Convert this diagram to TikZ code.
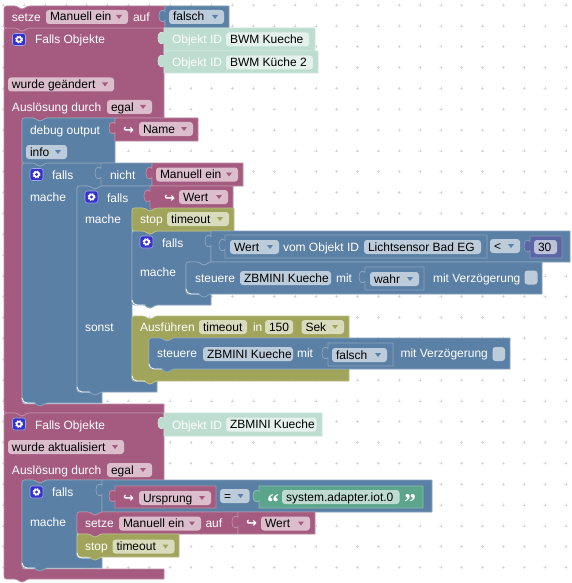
\documentclass[tikz,border=0pt]{standalone}
\usepackage{fontspec}
\setmainfont{Liberation Sans}
\newfontfamily\symfont{DejaVu Sans}
\newfontfamily\quotefont{Liberation Serif}
\definecolor{cmag}{HTML}{A55B80}
\definecolor{cblu}{HTML}{5B80A5}
\definecolor{coli}{HTML}{A0A55B}
\definecolor{cmin}{HTML}{BDDDD1}
\definecolor{cgrn}{HTML}{5BA58C}
\definecolor{cpur}{HTML}{5B67A5}
\definecolor{cgear}{HTML}{3333CC}
\begin{document}
\begin{tikzpicture}[x=1pt,y=-1pt,line cap=round,line join=round,
    every node/.style={inner sep=0pt,outer sep=0pt,font=\fontsize{12}{14}\selectfont},
    magblk/.style={fill=cmag,draw=cmag!72!white,line width=0.7pt},
    blublk/.style={fill=cblu,draw=cblu!72!white,line width=0.7pt},
    oliblk/.style={fill=coli,draw=coli!72!white,line width=0.7pt},
    minblk/.style={fill=cmin,draw=cmin!80!white,line width=0.7pt},
    grnblk/.style={fill=cgrn,draw=cgrn!72!white,line width=0.7pt},
    purblk/.style={fill=cpur,draw=cpur!72!white,line width=0.7pt},
    lab/.style={anchor=base west,text=white},
    fldtxt/.style={anchor=base west,text=black},
    fldbg/.style={fill=white,fill opacity=0.6,rounded corners=3pt},
    hilite/.style={draw=white!92!cblu,line width=0.9pt}]
  \def\stmt#1#2#3#4#5{\draw[#1,rounded corners=2.5pt] (#2,#5) -- (#2,#3) -- ({#2+13},#3) -- ({#2+16},{#3+3}) -- ({#2+20},{#3+3}) -- ({#2+23},#3) [sharp corners] -- (#4,#3) -- (#4,#5) [rounded corners=2.5pt] -- ({#2+23},#5) -- ({#2+20},{#5+3}) -- ({#2+16},{#5+3}) -- ({#2+13},#5) -- cycle;}
  \def\cblk#1#2#3#4#5#6#7#8#9{\draw[#1,rounded corners=2.5pt] (#2,#9) -- (#2,#3) -- ({#2+13},#3) -- ({#2+16},{#3+3}) -- ({#2+20},{#3+3}) -- ({#2+23},#3) [sharp corners] -- (#4,#3) -- (#4,#5) [rounded corners=2.5pt] -- ({#6+23},#5) -- ({#6+20},{#5+3}) -- ({#6+16},{#5+3}) -- ({#6+13},#5) -- (#6,#5) -- (#6,#7) [sharp corners] -- (#8,#7) -- (#8,#9) [rounded corners=2.5pt] -- ({#2+23},#9) -- ({#2+20},{#9+3}) -- ({#2+16},{#9+3}) -- ({#2+13},#9) -- cycle;}
  \def\val#1#2#3#4#5{\draw[#1] (#2,#3) -- (#4,#3) -- (#4,#5) -- (#2,#5) -- (#2,{#3+16}) -- (#2,{#3+14.5}) .. controls ({#2-2},{#3+16.5}) and ({#2-6},{#3+16.5}) .. ({#2-6},{#3+10}) .. controls ({#2-6},{#3+3.5}) and ({#2-2},{#3+3.5}) .. (#2,{#3+5.5}) -- cycle;}
  \def\lab#1#2#3#4{\node[lab] (#1) at (#2,#3) {#4};}
  \def\fld#1#2#3#4#5{\fill[fldbg] (#2,#4) rectangle (#3,{#4+14}); \node[fldtxt] (#1) at ({#2+4},{#4+11}) {#5};}
  \def\ddm#1#2#3#4#5#6{\fld{#2}{#3}{#4}{#5}{#6} \fill[#1] ({#4-12},{#5+5}) -- ({#4-6},{#5+5}) -- ({#4-9},{#5+9}) -- cycle;}
  \def\gear#1#2{\fill[cgear,draw=white!55!cgear,line width=0.6pt,rounded corners=2.5pt] ({#1-6.5},{#2-6}) rectangle ({#1+6.5},{#2+6});
    \draw[white,line width=1.3pt,line cap=butt,dash pattern=on 1.4pt off 1.3pt] (#1,#2) circle (3.4);
    \fill[white] (#1,#2) circle (3.2); \fill[cgear] (#1,#2) circle (1.6);}
  \def\varmark#1#2#3{\node[anchor=base west,text=white,font=\symfont\bfseries\fontsize{13}{14}\selectfont] (#1) at (#2,#3) {↪};}
  \def\hook#1#2{\draw[hilite] (#1,{#2-5}) arc[start angle=180,end angle=90,radius=5] -- ({#1+13},#2);}
  \useasboundingbox (0,0) rectangle (572,583);
  \fill[white] (0,0) rectangle (572,583);
  % grid of the workspace
  \foreach \i in {0,...,27} \foreach \j in {0,...,27} {
    \draw[black!16,line width=0.5pt] ({3.4+20.83*\i-1.2},{5+20.83*\j}) -- ({3.4+20.83*\i+1.2},{5+20.83*\j});
    \draw[black!16,line width=0.5pt] ({3.4+20.83*\i},{5+20.83*\j-1.2}) -- ({3.4+20.83*\i},{5+20.83*\j+1.2});
  }
  % first group
  \fill[cmag] (4,12) rectangle (22,575);
  \cblk{magblk}{4}{28}{164}{118}{22}{404}{164}{413}
  \stmt{magblk}{4}{6}{165}{28}
  \val{blublk}{165}{6}{229}{28}
  \lab{lsetze}{12}{22}{setze}
  \ddm{cmag}{fmanuell}{46}{128}{10}{Manuell ein}
  \lab{lauf}{133}{22}{auf}
  \ddm{cblu}{ffalsch}{169}{224}{10}{falsch}
  \gear{19}{39.5}
  \lab{lfalls}{35}{44}{Falls Objekte}
  \val{minblk}{164}{28}{315}{50.5}
  \lab{lobj}{172}{44}{Objekt ID}
  \fld{fbwm}{226}{309}{32.5}{BWM Kueche}
  \val{minblk}{164}{51}{318}{73}
  \lab{lobjb}{172}{67}{Objekt ID}
  \fld{fbwmb}{226}{313}{55.5}{BWM Küche 2}
  \ddm{cmag}{fgeaendert}{8}{114}{77.5}{wurde geändert}
  \lab{lausl}{12}{112}{Auslösung durch}
  \ddm{cmag}{fegal}{107}{152}{100}{egal}
  % debug and outer falls
  \fill[cblu] (22,125) rectangle (77,398);
  \cblk{blublk}{22}{163}{102}{186}{77}{392}{102}{403}
  \stmt{blublk}{22}{118}{115}{163}
  \lab{ldebug}{30}{134}{debug output}
  \val{magblk}{115}{118}{198}{141}
  \varmark{vname}{123}{134}
  \ddm{cmag}{fname}{139}{193}{122}{Name}
  \ddm{cblu}{finfo}{26}{67}{145}{info}
  \gear{36.5}{174.5}
  \lab{lfallsa}{52}{179}{falls}
  \val{blublk}{101}{163}{152}{186}
  \lab{lnicht}{110}{179}{nicht}
  \val{magblk}{152}{163}{243}{186}
  \ddm{cmag}{fmanuellb}{156}{238}{167.5}{Manuell ein}
  \lab{lmache}{30}{201}{mache}
  % inner falls
  \fill[cblu] (77,192) rectangle (132,387);
  \cblk{blublk}{77}{186}{157}{208}{132}{381}{157}{392}
  \gear{91.5}{197}
  \lab{lfallsb}{107}{202}{falls}
  \val{magblk}{150}{186}{233}{209}
  \varmark{vwert}{164}{202}
  \ddm{cmag}{fwert}{179}{228}{190}{Wert}
  \lab{lmacheb}{85}{223}{mache}
  \lab{lsonst}{85}{331}{sonst}
  \hook{77}{392}
  % falls with the light sensor
  \fill[cblu] (132,236) rectangle (186,300);
  \cblk{blublk}{132}{231}{211}{262}{186}{294}{211}{305}
  \stmt{oliblk}{132}{208}{234}{231}
  \lab{lstop}{140}{223.5}{stop}
  \ddm{coli}{ftimeout}{167}{229}{212}{timeout}
  \gear{146.5}{242}
  \lab{lfallsc}{162}{247}{falls}
  \val{blublk}{211}{231}{570}{262}
  \val{blublk}{225}{235}{487}{258}
  \ddm{cblu}{fwertb}{230}{279}{240}{Wert}
  \lab{lvom}{283}{251}{vom Objekt ID}
  \fld{flicht}{364}{481}{240}{Lichtsensor Bad EG}
  \ddm{cblu}{fless}{490}{520}{239}{<}
  \val{purblk}{530}{236}{562}{258}
  \fld{fdreissig}{534}{557}{240}{30}
  \lab{lmachec}{140}{276.5}{mache}
  \stmt{blublk}{186}{262}{542}{294}
  \lab{lsteuere}{195}{282}{steuere}
  \fld{fzbmini}{240}{331}{271}{ZBMINI Kueche}
  \lab{lmit}{336}{282}{mit}
  \val{blublk}{365}{267}{424}{290}
  \ddm{cblu}{fwahr}{370}{419}{272}{wahr}
  \lab{lverz}{433}{282}{mit Verzögerung}
  \fill[fldbg] (524.5,270.5) rectangle (537.5,284.5);
  \hook{132}{305}
  \hook{186}{294}
  % Ausfuehren
  \fill[coli] (132,322) rectangle (149,375);
  \cblk{oliblk}{132}{316}{349}{338}{149}{369}{349}{381}
  \lab{lausf}{140}{331.5}{Ausführen}
  \fld{ftimeoutb}{199}{247}{320}{timeout}
  \lab{lin}{253}{331.5}{in}
  \fld{fhundert}{265}{293}{320}{150}
  \ddm{coli}{fsek}{301.5}{344}{320}{Sek}
  \stmt{blublk}{149}{338}{510}{369}
  \lab{lsteuereb}{157}{357.5}{steuere}
  \fld{fzbminib}{203}{293}{347}{ZBMINI Kueche}
  \lab{lmitb}{297}{357.5}{mit}
  \val{blublk}{328}{343}{393}{366}
  \ddm{cblu}{ffalschb}{332}{387}{348}{falsch}
  \lab{lverzb}{400.5}{357.5}{mit Verzögerung}
  \fill[fldbg] (492.5,347) rectangle (505,361);
  \hook{132}{381}
  \hook{149}{369}
  \hook{22}{403}
  % second group
  \cblk{magblk}{4}{413}{164}{480}{22}{569}{164}{579}
  \gear{19}{424}
  \lab{lfallsd}{35}{429}{Falls Objekte}
  \val{minblk}{164}{413}{322}{436}
  \lab{lobjc}{172}{429}{Objekt ID}
  \fld{fzbminic}{226}{316.5}{417.5}{ZBMINI Kueche}
  \ddm{cmag}{faktual}{8}{124}{440}{wurde aktualisiert}
  \lab{lauslb}{12}{474}{Auslösung durch}
  \ddm{cmag}{fegalb}{107}{152}{463}{egal}
  \fill[cblu] (22,486) rectangle (77,563);
  \cblk{blublk}{22}{480}{102}{512}{77}{558}{102}{568}
  \gear{36.5}{492}
  \lab{lfallse}{52}{496.5}{falls}
  \val{blublk}{102}{480}{432}{512}
  \val{magblk}{115}{486}{216}{508}
  \varmark{vursprung}{123}{502}
  \ddm{cmag}{fursprung}{139}{211}{491}{Ursprung}
  \ddm{cblu}{fgleich}{220}{249.5}{489}{=}
  \val{grnblk}{259}{486}{423}{508}
  \node[anchor=base west,text=white,font=\quotefont\bfseries\fontsize{24}{24}\selectfont] (qopen) at (267,510) {“};
  \fld{fsystem}{282}{399.5}{490}{system.adapter.iot.0}
  \node[anchor=base west,text=white,font=\quotefont\bfseries\fontsize{24}{24}\selectfont] (qclose) at (404,510) {”};
  \lab{lmached}{30}{526.5}{mache}
  \stmt{magblk}{77}{512}{238}{534}
  \lab{lsetzeb}{85}{527}{setze}
  \ddm{cmag}{fmanuellc}{119}{201}{516.5}{Manuell ein}
  \lab{laufb}{205.5}{527}{auf}
  \val{magblk}{238}{512}{315}{534}
  \varmark{vwertb}{246}{527}
  \ddm{cmag}{fwertc}{261}{310}{516.5}{Wert}
  \stmt{oliblk}{77}{534}{179}{557}
  \lab{lstopb}{85}{550}{stop}
  \ddm{coli}{ftimeoutc}{112.5}{174.5}{539.5}{timeout}
  \hook{77}{558}
  \hook{22}{568}
\end{tikzpicture}
\end{document}
